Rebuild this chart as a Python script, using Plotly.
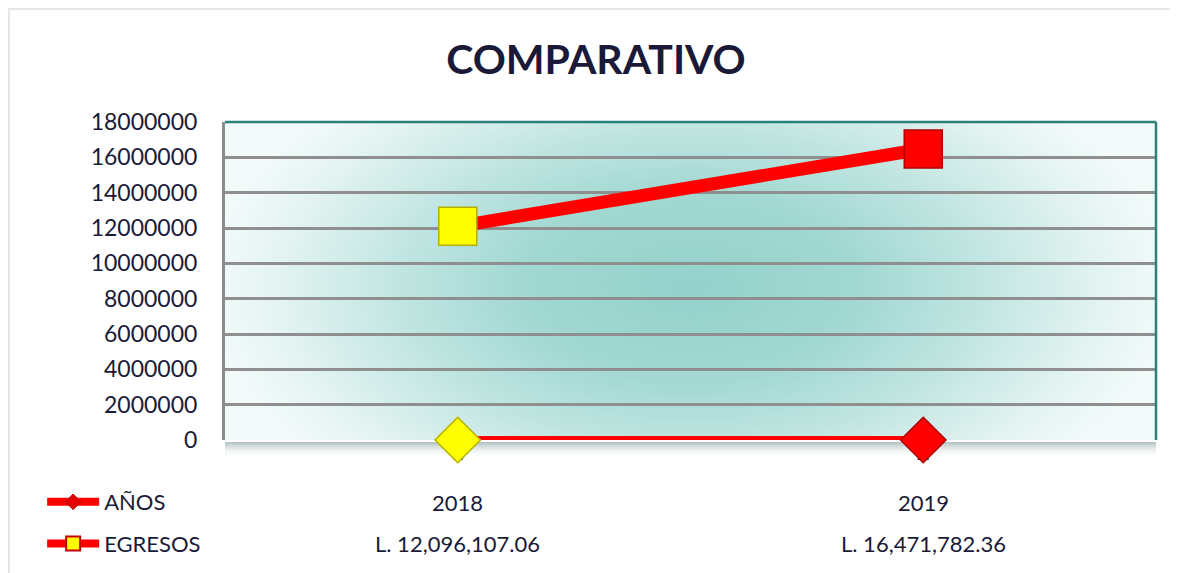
import base64
import plotly.graph_objects as go

# ---- data ----
categories = ["1", "2"]
anos = [2018, 2019]
egresos = [12096107.06, 16471782.36]
egresos_labels = ["L. 12,096,107.06", "L. 16,471,782.36"]
point_colors = ["#ffff00", "#ff0000"]
point_edges = ["#b5b000", "#b00000"]
y_ticks = list(range(0, 18000001, 2000000))

NAVY = "#1a1a38"
FONT = "Lato, 'Open Sans', sans-serif"

# ---- background images (styling only) ----
bg_svg = (
    '<svg xmlns="http://www.w3.org/2000/svg" width="931" height="318" '
    'viewBox="0 0 931 318" preserveAspectRatio="none">'
    '<defs><radialGradient id="g" gradientUnits="userSpaceOnUse" cx="465" cy="165" r="480" '
    'gradientTransform="translate(465 165) scale(1 0.55) translate(-465 -165)">'
    '<stop offset="0" stop-color="#93d1ca"/>'
    '<stop offset="0.35" stop-color="#a2d8d2"/>'
    '<stop offset="0.6" stop-color="#c0e5e1"/>'
    '<stop offset="0.85" stop-color="#e2f3f1"/>'
    '<stop offset="1" stop-color="#f2fafa"/>'
    '</radialGradient></defs>'
    '<rect width="931" height="318" fill="url(#g)"/></svg>'
)
shadow_svg = (
    '<svg xmlns="http://www.w3.org/2000/svg" width="931" height="18" '
    'viewBox="0 0 931 18" preserveAspectRatio="none">'
    '<defs><linearGradient id="s" x1="0" y1="0" x2="0" y2="1">'
    '<stop offset="0" stop-color="#98afad"/>'
    '<stop offset="1" stop-color="#ffffff" stop-opacity="0"/>'
    '</linearGradient></defs>'
    '<rect width="931" height="18" fill="url(#s)"/></svg>'
)


def uri(svg):
    return "data:image/svg+xml;base64," + base64.b64encode(svg.encode()).decode()


fig = go.Figure()

# main series
fig.add_trace(go.Scatter(
    x=categories, y=egresos, mode="lines+markers", name="EGRESOS",
    line=dict(color="#ff0000", width=13),
    marker=dict(symbol="square", size=38, color=point_colors,
                line=dict(color=point_edges, width=1.5)),
    showlegend=False, cliponaxis=False,
))
fig.add_trace(go.Scatter(
    x=categories, y=anos, mode="lines+markers", name="AÑOS",
    line=dict(color="#ff0000", width=8),
    marker=dict(symbol="diamond", size=35, color=point_colors,
                line=dict(color=point_edges, width=1.5)),
    showlegend=False, cliponaxis=False,
))

# legend entries
fig.add_trace(go.Scatter(
    x=[None], y=[None], mode="lines+markers", name="AÑOS", legendgroup="a",
    line=dict(color="#ff0000", width=8),
    marker=dict(symbol="diamond", size=12, color="#e60000",
                line=dict(color="#b00000", width=1)),
))
fig.add_trace(go.Scatter(
    x=[None], y=[None], mode="lines+markers", name="EGRESOS", legendgroup="b",
    line=dict(color="#ff0000", width=8),
    marker=dict(symbol="square", size=14, color="#ffff00",
                line=dict(color="#c00000", width=2)),
))

# data table annotations (category index positions)
for i, (a, lab) in enumerate(zip(anos, egresos_labels)):
    fig.add_annotation(x=i, y=-0.195, xref="x", yref="paper", text=str(a),
                       showarrow=False, font=dict(size=22, color=NAVY, family=FONT),
                       yanchor="middle")
    fig.add_annotation(x=i, y=-0.324, xref="x", yref="paper", text=lab,
                       showarrow=False, font=dict(size=22, color=NAVY, family=FONT),
                       yanchor="middle")

fig.update_layout(
    width=1162, height=573,
    margin=dict(l=217, r=14, t=114, b=141),
    paper_bgcolor="white", plot_bgcolor="rgba(0,0,0,0)",
    title=dict(text="<b>COMPARATIVO</b>", x=0.506, xref="container", xanchor="center",
               y=1 - 52 / 573, yref="container", yanchor="middle",
               font=dict(size=41, color=NAVY, family=FONT)),
    font=dict(family=FONT, color=NAVY, size=23),
    xaxis=dict(type="category", range=[-0.5, 1.5], showgrid=False,
               showline=True, linecolor="#ffffff", linewidth=2,
               ticks="", tickfont=dict(size=23, color=NAVY), layer="below traces",
               ticklabelstandoff=-10, fixedrange=True),
    yaxis=dict(range=[0, 18000000], tickvals=y_ticks, tickformat="d",
               showgrid=True, gridcolor="#8f8f8f", gridwidth=2.5,
               zeroline=False, showline=True, linecolor="#8c8c8c", linewidth=3,
               ticks="outside", ticklen=20, tickcolor="rgba(0,0,0,0)",
               tickfont=dict(size=23, color=NAVY), fixedrange=True),
    legend=dict(x=-0.1964, y=-0.129, xanchor="left", yanchor="top",
                font=dict(size=22, color=NAVY, family=FONT),
                bgcolor="rgba(0,0,0,0)", tracegroupgap=10, itemwidth=52,
                traceorder="grouped"),
    images=[
        dict(source=uri(bg_svg), xref="paper", yref="paper", x=0, y=1,
             sizex=1, sizey=1, xanchor="left", yanchor="top",
             sizing="stretch", layer="below"),
        dict(source=uri(shadow_svg), xref="paper", yref="paper", x=0, y=0,
             sizex=1, sizey=18 / 318, xanchor="left", yanchor="top",
             sizing="stretch", layer="below"),
    ],
    shapes=[
        # outer light frame
        dict(type="line", xref="paper", yref="paper", x0=-0.2331, x1=-0.2331,
             y0=1.3585, y1=-0.45, line=dict(color="#e6e6e6", width=4)),
        dict(type="line", xref="paper", yref="paper", x0=-0.2331, x1=1.05,
             y0=1.3585, y1=1.3585, line=dict(color="#e6e6e6", width=4)),
        # teal top and right borders
        dict(type="line", xref="paper", yref="paper", x0=0, x1=1, y0=1, y1=1,
             line=dict(color="#2b8078", width=2.5)),
        dict(type="line", xref="paper", yref="paper", x0=1, x1=1, y0=0, y1=1,
             line=dict(color="#2b8078", width=2.5)),
    ],
)

fig.write_html("out.html")
